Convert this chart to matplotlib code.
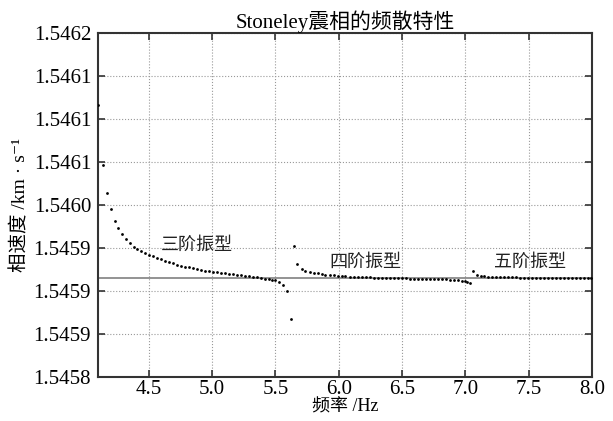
import matplotlib
matplotlib.use("Agg")
import matplotlib.pyplot as plt
import numpy as np

plt.rcParams["font.family"] = ["Liberation Serif", "Noto Sans CJK SC", "DejaVu Serif"]

# mode 3 dispersion samples (Hz, km/s)
mode3_freq = [4.102, 4.137, 4.169, 4.200, 4.232, 4.258, 4.290, 4.321, 4.353, 4.384,
              4.410, 4.442, 4.474, 4.500, 4.532, 4.564, 4.595, 4.627, 4.658, 4.690,
              4.722, 4.753, 4.785, 4.816, 4.848, 4.880, 4.911, 4.943, 4.974, 5.006,
              5.038, 5.069, 5.101, 5.132, 5.164, 5.196, 5.227, 5.259, 5.290, 5.322,
              5.354, 5.385, 5.417, 5.448, 5.474, 5.498, 5.527, 5.559, 5.591, 5.621]
mode3_vel = [1.5461170, 1.5460472, 1.5460147, 1.5459954, 1.5459821, 1.5459736,
             1.5459666, 1.5459612, 1.5459558, 1.5459519, 1.5459488, 1.5459465,
             1.5459442, 1.5459426, 1.5459405, 1.5459387, 1.5459370, 1.5459352,
             1.5459338, 1.5459324, 1.5459310, 1.5459299, 1.5459287, 1.5459277,
             1.5459267, 1.5459258, 1.5459249, 1.5459241, 1.5459234, 1.5459227,
             1.5459220, 1.5459213, 1.5459207, 1.5459201, 1.5459195, 1.5459190,
             1.5459184, 1.5459178, 1.5459172, 1.5459166, 1.5459160, 1.5459155,
             1.5459148, 1.5459141, 1.5459136, 1.5459128, 1.5459108, 1.5459073,
             1.5459007, 1.5458681]

# mode 4
mode4_freq = [5.643, 5.674, 5.706, 5.737, 5.769, 5.801, 5.832, 5.864, 5.895, 5.927,
              5.959, 5.990, 6.022, 6.053, 6.085, 6.117, 6.148, 6.180, 6.211, 6.243,
              6.275, 6.306, 6.338, 6.369, 6.401, 6.433, 6.464, 6.496, 6.527, 6.559,
              6.591, 6.622, 6.654, 6.685, 6.717, 6.749, 6.780, 6.812, 6.843, 6.875,
              6.907, 6.938, 6.970, 6.995, 7.015, 7.034]
mode4_vel = [1.5459527, 1.5459317, 1.5459263, 1.5459233, 1.5459221, 1.5459213,
             1.5459207, 1.5459202, 1.5459193, 1.5459187, 1.5459183, 1.5459179,
             1.5459176, 1.5459173, 1.5459171, 1.5459169, 1.5459166, 1.5459165,
             1.5459163, 1.5459162, 1.5459159, 1.5459158, 1.5459156, 1.5459155,
             1.5459154, 1.5459152, 1.5459151, 1.5459150, 1.5459149, 1.5459148,
             1.5459147, 1.5459145, 1.5459144, 1.5459143, 1.5459142, 1.5459141,
             1.5459140, 1.5459138, 1.5459137, 1.5459135, 1.5459133, 1.5459129,
             1.5459124, 1.5459116, 1.5459105, 1.5459093]

# mode 5
mode5_freq = [7.060, 7.091, 7.120, 7.149, 7.181, 7.212, 7.244, 7.275, 7.307, 7.339,
              7.370, 7.402, 7.433, 7.465, 7.497, 7.528, 7.560, 7.591, 7.623, 7.654,
              7.686, 7.718, 7.749, 7.781, 7.812, 7.844, 7.876, 7.907, 7.939, 7.970,
              7.994]
mode5_vel = [1.5459240, 1.5459192, 1.5459178, 1.5459173, 1.5459170, 1.5459167,
             1.5459165, 1.5459164, 1.5459163, 1.5459162, 1.5459160, 1.5459160,
             1.5459159, 1.5459159, 1.5459158, 1.5459158, 1.5459157, 1.5459157,
             1.5459157, 1.5459156, 1.5459156, 1.5459156, 1.5459155, 1.5459155,
             1.5459155, 1.5459155, 1.5459154, 1.5459154, 1.5459154, 1.5459154,
             1.5459154]

reference_vel = 1.5459150

mode_labels = ["三阶振型", "四阶振型", "五阶振型"]
label_freq = [4.882, 6.209, 7.512]
label_vel = [1.5459538, 1.5459341, 1.5459341]

x_ticks = [4.5, 5.0, 5.5, 6.0, 6.5, 7.0, 7.5, 8.0]
y_tick_labels = ["1.5458", "1.5459", "1.5459", "1.5459", "1.5460",
                 "1.5461", "1.5461", "1.5461", "1.5462"]

fig = plt.figure(figsize=(6.13, 4.21), dpi=100)
ax = fig.add_axes([0.16, 0.104, 0.806, 0.817])

ax.axhline(reference_vel, color="#808080", lw=1.2, zorder=2)

for freq, vel in [(mode3_freq, mode3_vel), (mode4_freq, mode4_vel),
                  (mode5_freq, mode5_vel)]:
    ax.scatter(freq, vel, s=4, color="black", linewidths=0, zorder=3)

for text, fx, vy in zip(mode_labels, label_freq, label_vel):
    ax.text(fx, vy, text, fontsize=13, family="Noto Sans CJK SC",
            ha="center", va="center", color="#222222")

ax.set_xlim(4.1, 8.0)
ax.set_ylim(1.5458, 1.5462)
ax.set_xticks(x_ticks)
ax.set_xticklabels([f"{t:.1f}" for t in x_ticks])
ax.set_yticks(np.linspace(1.5458, 1.5462, len(y_tick_labels)))
ax.set_yticklabels(y_tick_labels)

ax.tick_params(direction="in", length=5, width=1.2, labelsize=15,
               top=True, right=True, pad=5, colors="#333333", labelcolor="black")
ax.tick_params(axis="x", pad=2)
ax.grid(True, linestyle=":", color="#999999", lw=0.8)

for spine in ax.spines.values():
    spine.set_linewidth(1.5)
    spine.set_color("#333333")

ax.set_title("Stoneley震相的频散特性", fontsize=15, pad=4)
ax.set_xlabel("频率 /Hz", fontsize=13, labelpad=0)
ax.set_ylabel("相速度 /km · s⁻¹", fontsize=14, labelpad=3)

fig.savefig("out.png", dpi=100)
